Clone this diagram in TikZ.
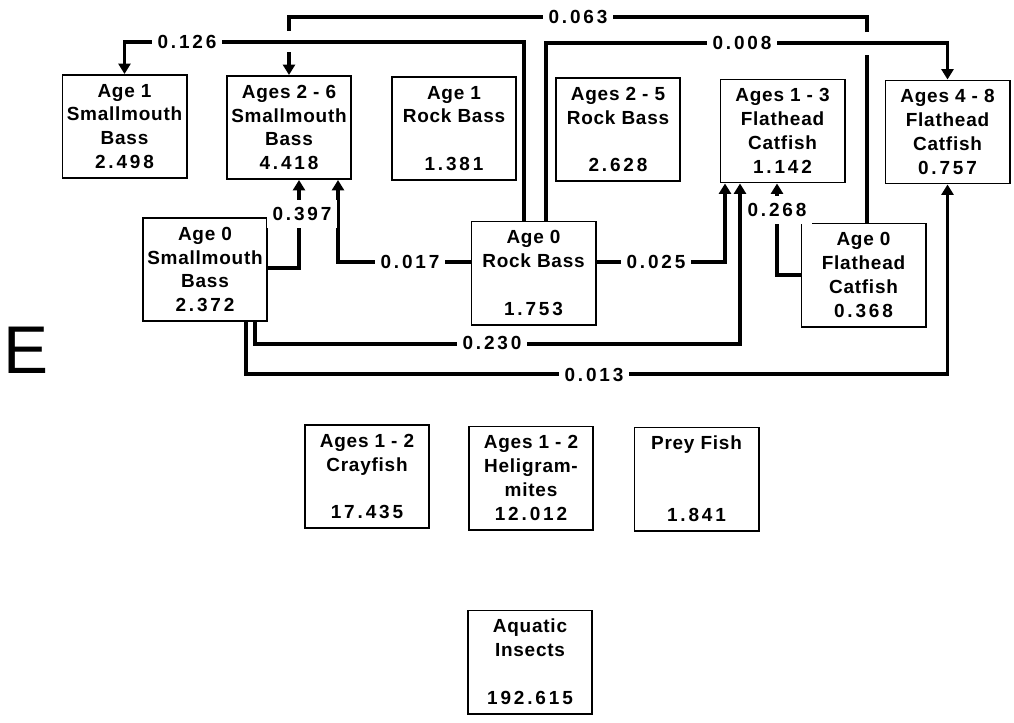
\documentclass[tikz,border=0pt]{standalone}
\usepackage{fontspec}
\setmainfont{Liberation Sans}[LetterSpace=4]
\usetikzlibrary{arrows.meta, calc, positioning}

\newcommand{\val}[1]{{\addfontfeature{LetterSpace=15}#1}}

\tikzset{
  box/.style={draw, line width=1.4pt, minimum width=3.1cm, minimum height=2.575cm,
    inner sep=0pt, align=center, font=\fontsize{13.5}{17}\selectfont\bfseries},
  flow/.style={line width=2.8pt, -{Triangle[length=0.26cm,width=0.3cm]}},
  lbl/.style={fill=white, inner xsep=0.15cm, inner ysep=0.05cm,
    font=\fontsize{13.5}{15}\selectfont\bfseries},
  vlbl/.style={lbl, minimum height=0.72cm},
}

\begin{document}
\begin{tikzpicture}[x=0.025cm, y=-0.025cm]
    \useasboundingbox (0,0) rectangle (1014,723);

    % Panel letter
    \node (panel) at (26,350) {\fontsize{48}{48}\selectfont E};

    % Adult and juvenile predators
    \node[box] (smb1) at (124.5,126.5) {Age 1\\Smallmouth\\Bass\\\val{2.498}};
    \node[box] (smb26) at (289,127.5) {Ages 2 - 6\\Smallmouth\\Bass\\\val{4.418}};
    \node[box] (rb1) at (454,128.5) {Age 1\\Rock Bass\\[17pt]\val{1.381}};
    \node[box] (rb25) at (618,129.5) {Ages 2 - 5\\Rock Bass\\[17pt]\val{2.628}};
    \node[box] (fc13) at (782.5,131) {Ages 1 - 3\\Flathead\\Catfish\\\val{1.142}};
    \node[box] (fc48) at (947.5,132) {Ages 4 - 8\\Flathead\\Catfish\\\val{0.757}};

    % Age 0 fish
    \node[box] (smb0) at (205,269.5) {Age 0\\Smallmouth\\Bass\\\val{2.372}};
    \node[box] (rb0) at (533.5,273) {Age 0\\Rock Bass\\[17pt]\val{1.753}};
    \node[box] (fc0) at (863.5,275) {Age 0\\Flathead\\Catfish\\\val{0.368}};

    % Invertebrates and prey
    \node[box] (cray) at (367,476.5) {Ages 1 - 2\\Crayfish\\[17pt]\val{17.435}};
    \node[box] (helg) at (531,478) {Ages 1 - 2\\Heligram-\\mites\\\val{12.012}};
    \node[box] (prey) at (696.5,479) {Prey Fish\\[34pt]\val{1.841}};
    \node[box] (insects) at (530,662) {Aquatic\\Insects\\[17pt]\val{192.615}};

    % Flows over the top (0.063 hops over the other two)
    \coordinate (hop) at ($(fc0.north)+(3.5,0)$);
    \draw[flow] (hop) -- (hop |- 0,55) (hop |- 0,32) |- (smb26.north |- 0,17)
        -- (smb26.north |- 0,31) (smb26.north |- 0,52) -- (smb26.north);
    \draw[flow] ($(rb0.north)+(-9.5,0)$) |- (smb1.north |- 0,42) -- (smb1.north);
    \draw[flow] ($(rb0.north)+(12.5,0)$) |- (fc48.north |- 0,43) -- (fc48.north);

    % Flows between the rows
    \draw[flow] ($(smb0.east)+(0,-1.5)$) -| ($(smb26.south)+(10,0)$);
    \draw[flow] ($(rb0.west)+(0,-11)$) -| ($(smb26.south)+(49,0)$);
    \draw[flow] ($(rb0.east)+(0,-11)$) -| ($(fc13.south)+(-57.5,0)$);
    \draw[flow] (fc0.west) -| ($(fc13.south)+(-5.5,0)$);

    % Flows underneath
    \draw[flow] ($(smb0.south)+(50,0)$) -- ++(0,22) -| ($(fc13.south)+(-42.5,0)$);
    \draw[flow] ($(smb0.south)+(41,0)$) -- ++(0,52) -| (fc48.south);

    % Labels
    \node[lbl] (l063) at (578,17) {\val{0.063}};
    \node[lbl] (l126) at (187,42) {\val{0.126}};
    \node[lbl] (l008) at (742,43) {\val{0.008}};
    \node[vlbl] (l397) at (302,214) {\val{0.397}};
    \node[vlbl] (l268) at (777,210) {\val{0.268}};
    \node[lbl] (l017) at (410,262) {\val{0.017}};
    \node[lbl] (l025) at (656,262) {\val{0.025}};
    \node[lbl] (l230) at (492,343) {\val{0.230}};
    \node[lbl] (l013) at (594,375) {\val{0.013}};
\end{tikzpicture}
\end{document}
